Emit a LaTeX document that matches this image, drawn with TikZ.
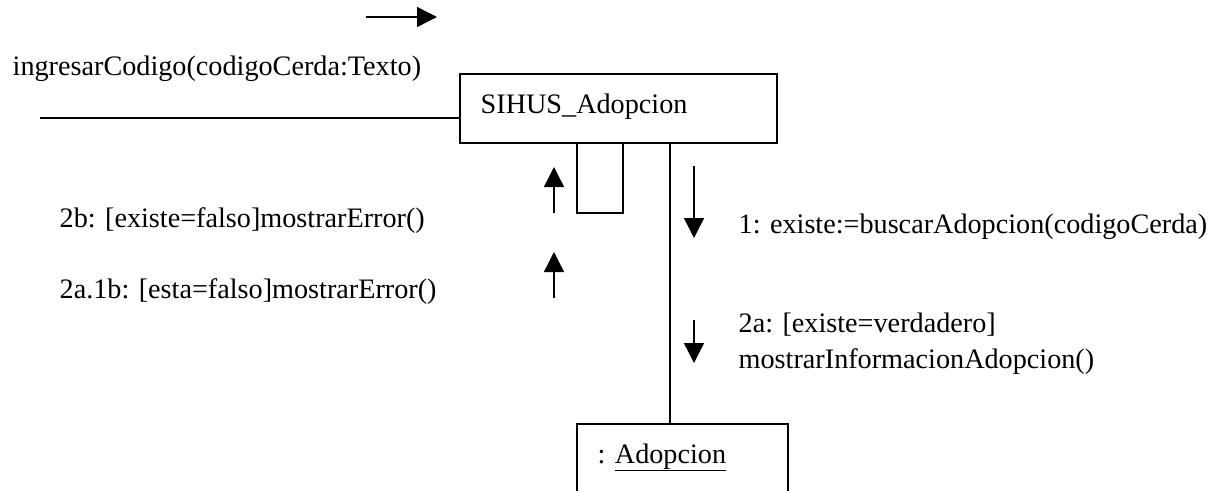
\documentclass[tikz,border=0pt]{standalone}
\usepackage{fontspec}
\setmainfont{Liberation Serif}
\usetikzlibrary{arrows.meta}
\begin{document}
\begin{tikzpicture}[x=1pt,y=-1pt,
  line width=1.4pt,
  lbl/.style={anchor=base west,inner sep=0pt,font=\fontsize{28.2}{34}\selectfont},
  obj/.style={draw,line width=1.4pt,inner sep=0pt},
  msg/.style={-{Triangle[length=20pt,width=20pt]},line width=1.4pt}]
\useasboundingbox (0,0) rectangle (1218,490);
\clip (0,0) rectangle (1218,490);
% top direction arrow
\coordinate (ta) at (366,17);
\coordinate (tb) at (437,17);
\draw[msg] (ta) -- (tb);
\node[lbl] (l0) at (12,75) {ingresarCodigo(codigoCerda:Texto)};
% objects
\node[obj,minimum width=317pt,minimum height=69pt] (sihus) at (618.5,108.5) {};
\node[lbl] (sihust) at (480,113) {SIHUS\_Adopcion};
\node[obj,minimum width=211pt,minimum height=100pt] (adop) at (682.5,474) {};
\node[lbl] (adopt) at (597,463) {: \underline{Adopcion}};
% actor link
\coordinate (act) at (40,118);
\draw (act) -- (act -| sihus.west);
% self loop
\coordinate (s1) at (577,143);
\coordinate (s2) at (623,143);
\draw (s1) |- (600,213) -| (s2);
% link
\coordinate (lk) at (670,143);
\draw (lk) -- (lk |- adop.north);
% message arrows
\coordinate (u1a) at (554,213); \coordinate (u1b) at (554,167);
\draw[msg] (u1a) -- (u1b);
\coordinate (u2a) at (554,298); \coordinate (u2b) at (554,252);
\draw[msg] (u2a) -- (u2b);
\coordinate (d1a) at (694,166); \coordinate (d1b) at (694,238);
\draw[msg] (d1a) -- (d1b);
\coordinate (d2a) at (694,320); \coordinate (d2b) at (694,363);
\draw[msg] (d2a) -- (d2b);
% labels
\node[lbl] (l2b) at (59,227) {2b: [existe=falso]mostrarError()};
\node[lbl] (l2a1b) at (59,298) {2a.1b: [esta=falso]mostrarError()};
\node[lbl] (l1) at (738,233) {1: existe:=buscarAdopcion(codigoCerda)};
\node[lbl] (l2a) at (738,332) {2a: [existe=verdadero]};
\node[lbl] (l2a2) at (738,368) {mostrarInformacionAdopcion()};
\end{tikzpicture}
\end{document}
